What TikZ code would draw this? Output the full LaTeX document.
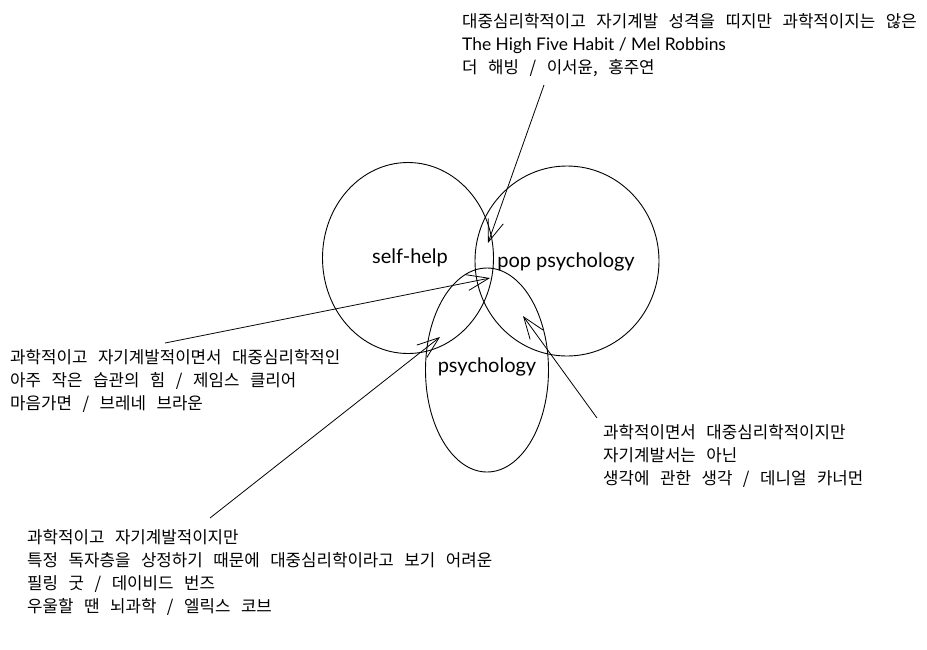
\documentclass[tikz,border=0pt]{standalone}
\usepackage{fontspec}
\setmainfont[WordSpace=2.8]{Noto Sans CJK KR}
\newfontfamily\handfont{Lato}
\usetikzlibrary{shapes.geometric,arrows.meta}

\tikzset{
	venn/.style={draw, ellipse, inner sep=0pt, line width=0.9pt},
	vennlabel/.style={inner sep=0pt, font=\handfont\fontsize{20}{22}\selectfont},
	note/.style={anchor=north west, align=left, inner sep=0pt, font=\fontsize{16.8}{23}\selectfont},
	pointer/.style={-{Straight Barb[length=22pt,width=16pt]}, line width=0.8pt},
}

\begin{document}
\begin{tikzpicture}[x=1pt,y=-1pt]
	\useasboundingbox (0,0) rectangle (927,649);

	% the three sets
	\node[venn, minimum width=171pt, minimum height=191pt] (selfhelp) at (408,258) {};
	\node[venn, minimum width=184pt, minimum height=190pt] (pop) at (567,261) {};
	\node[venn, minimum width=123pt, minimum height=204pt] (psy) at (487,370) {};
	\node[vennlabel] (selfhelplabel) at (410,258) {self-help};
	\node[vennlabel] (poplabel) at (566,262) {pop psychology};
	\node[vennlabel] (psylabel) at (487,367) {psychology};

	% notes
	\node[note] (popnote) at (462,13) {대중심리학적이고 자기계발 성격을 띠지만 과학적이지는 않은\\{\handfont\fontsize{17.4}{23}\selectfont The High Five Habit / Mel Robbins}\\더 해빙 / 이서윤, 홍주연};
	\node[note] (allnote) at (10,349) {과학적이고 자기계발적이면서 대중심리학적인\\아주 작은 습관의 힘 / 제임스 클리어\\마음가면 / 브레네 브라운};
	\node[note] (selfnote) at (27,529) {과학적이고 자기계발적이지만\\특정 독자층을 상정하기 때문에 대중심리학이라고 보기 어려운\\필링 굿 / 데이비드 번즈\\우울할 땐 뇌과학 / 엘릭스 코브};
	\node[note] (scinote) at (603,424) {과학적이면서 대중심리학적이지만\\자기계발서는 아닌\\생각에 관한 생각 / 데니얼 카너먼};

	% arrow ends
	\coordinate (popfrom) at (544,85);
	\coordinate (popto) at (488,243);
	\coordinate (allfrom) at (165,343);
	\coordinate (allto) at (490,278);
	\coordinate (selffrom) at (210,518);
	\coordinate (selfto) at (440,337);
	\coordinate (scifrom) at (597,418);
	\coordinate (scito) at (523,316);

	\draw
		(popfrom) edge[pointer] (popto)
		(allfrom) edge[pointer] (allto)
		(selffrom) edge[pointer] (selfto)
		(scifrom) edge[pointer] (scito)
	;
\end{tikzpicture}
\end{document}
